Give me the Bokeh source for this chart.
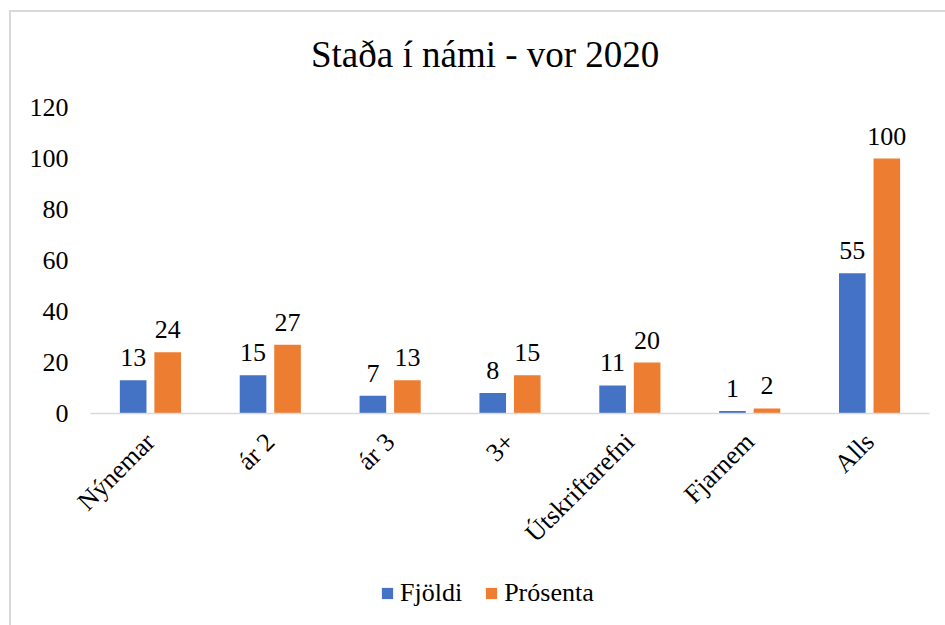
from bokeh.plotting import figure
from bokeh.layouts import column
from bokeh.models import (ColumnDataSource, FactorRange, Range1d, LabelSet, Legend,
                          LegendItem, FixedTicker, Div)
from bokeh.transform import dodge
from bokeh.embed import file_html
from bokeh.resources import INLINE
import math

title_text = "Staða í námi - vor 2020"
categories = ["Nýnemar", "ár 2", "ár 3", "3+", "Útskriftarefni", "Fjarnem", "Alls"]
fjoldi = [13, 15, 7, 8, 11, 1, 55]
prosenta = [24, 27, 13, 15, 20, 2, 100]
y_ticks = [0, 20, 40, 60, 80, 100, 120]
series_names = ["Fjöldi", "Prósenta"]

BLUE = "#4472C4"
ORANGE = "#ED7D31"
FONT = "Times New Roman"
FS = "26px"

source = ColumnDataSource(dict(
    cat=categories,
    fjoldi=fjoldi,
    prosenta=prosenta,
    fjoldi_lbl=[str(v) for v in fjoldi],
    prosenta_lbl=[str(v) for v in prosenta],
))

x_range = FactorRange(*categories, range_padding=0)

title = Div(
    text=('<div style="padding:24px 0 0 300px; font-family:\'Times New Roman\', serif; '
          'font-size:37px; line-height:1; color:#000000; white-space:nowrap;">'
          + title_text + '</div>'),
    width=934, height=79, margin=0,
)

p = figure(
    x_range=x_range,
    y_range=Range1d(0, 120),
    width=934, height=479,
    output_backend="svg", toolbar_location=None,
    min_border_left=79, min_border_right=16, min_border_top=16, min_border_bottom=157,
)

r1 = p.vbar(x=dodge("cat", -0.144, range=x_range), top="fjoldi", width=0.222,
            source=source, fill_color=BLUE, line_color=None)
r2 = p.vbar(x=dodge("cat", 0.144, range=x_range), top="prosenta", width=0.222,
            source=source, fill_color=ORANGE, line_color=None)

for col, off in (("fjoldi", -0.144), ("prosenta", 0.144)):
    lab = LabelSet(x=dodge("cat", off, range=x_range), y=col, text=col + "_lbl",
                   source=source, text_align="center", text_baseline="bottom",
                   y_offset=14, text_font=FONT, text_font_size=FS, text_color="#000000")
    p.add_layout(lab)

p.xgrid.visible = False
p.ygrid.visible = False
p.outline_line_color = None

p.yaxis.ticker = FixedTicker(ticks=y_ticks)
p.yaxis.axis_line_color = None
p.yaxis.major_tick_line_color = None
p.yaxis.minor_tick_line_color = None
p.yaxis.major_tick_out = 0
p.yaxis.minor_tick_out = 0
p.yaxis.major_label_standoff = 22
p.yaxis.major_label_text_font = FONT
p.yaxis.major_label_text_font_size = FS
p.yaxis.major_label_text_color = "#000000"

p.xaxis.axis_line_color = "#d9d9d9"
p.xaxis.axis_line_width = 1.5
p.xaxis.major_tick_line_color = None
p.xaxis.minor_tick_line_color = None
p.xaxis.major_tick_out = 0
p.xaxis.major_label_orientation = math.pi / 4
p.xaxis.major_label_standoff = 24
p.xaxis.major_label_text_font = FONT
p.xaxis.major_label_text_font_size = FS
p.xaxis.major_label_text_color = "#000000"

# legend strip: same bars, in a view range that lies entirely above them
leg = figure(width=934, height=55, output_backend="svg", toolbar_location=None,
             x_range=x_range, y_range=Range1d(500, 501),
             x_axis_location=None, y_axis_location=None,
             min_border_left=0, min_border_right=0, min_border_top=0, min_border_bottom=0)
leg.grid.visible = False
leg.outline_line_color = None
l1 = leg.vbar(x=dodge("cat", -0.144, range=x_range), top="fjoldi", width=0.222,
              source=source, fill_color=BLUE, line_color=None)
l2 = leg.vbar(x=dodge("cat", 0.144, range=x_range), top="prosenta", width=0.222,
              source=source, fill_color=ORANGE, line_color=None)
legend = Legend(items=[LegendItem(label=series_names[0], renderers=[l1]),
                       LegendItem(label=series_names[1], renderers=[l2])],
                orientation="horizontal", location=(290, 17))
legend.label_text_font = FONT
legend.label_text_font_size = FS
legend.label_text_color = "#000000"
legend.glyph_width = 14
legend.glyph_height = 14
legend.label_height = 26
legend.spacing = 22
legend.label_standoff = 6
legend.border_line_color = None
legend.background_fill_alpha = 0
legend.margin = 0
legend.padding = 0
leg.add_layout(legend)

layout = column(title, p, leg, spacing=0, margin=(10, 0, 0, 9),
                styles={"border-top": "2px solid #d9d9d9", "border-left": "2px solid #d9d9d9"})

open("out.html", "w").write(file_html(layout, INLINE))
